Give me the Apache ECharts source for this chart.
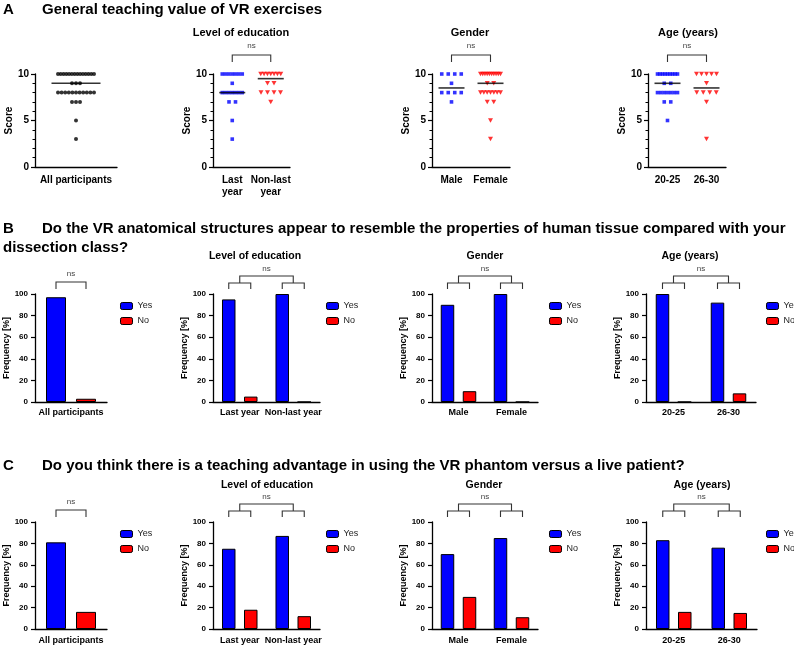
<!DOCTYPE html>
<html>
<head>
<meta charset="utf-8">
<style>
  html, body { margin: 0; padding: 0; background: #fff; }
  #chart { width: 794px; height: 649px; }
</style>
<script src="https://cdn.jsdelivr.net/npm/echarts@6/dist/echarts.min.js"></script>
</head>
<body>
<div id="chart"></div>
<script>
const FONT = '"Liberation Sans", Arial, Helvetica, sans-serif'
const BLUE = '#0000ff'
const RED = '#ff0000'

// A - general teaching value, scores 0-10
const scoreCatsAll = ['All participants']
const scoreCatsEdu = ['Last\nyear', 'Non-last\nyear']
const scoreCatsGender = ['Male', 'Female']
const scoreCatsAge = ['20-25', '26-30']

const scoresAll = [10, 10, 10, 10, 10, 10, 10, 10, 10, 10, 10, 10, 10, 10, 9, 9, 9, 8, 8, 8, 8, 8, 8, 8, 8, 8, 8, 8, 7, 7, 7, 5, 3]
const scoresLastYear = [10, 10, 10, 10, 10, 10, 10, 9, 8, 8, 8, 8, 8, 8, 8, 7, 7, 5, 3]
const scoresNonLastYear = [10, 10, 10, 10, 10, 10, 10, 9, 9, 8, 8, 8, 8, 7]
const scoresMale = [10, 10, 10, 10, 9, 8, 8, 8, 8, 7]
const scoresFemale = [10, 10, 10, 10, 10, 10, 10, 10, 10, 10, 9, 9, 8, 8, 8, 8, 8, 8, 8, 7, 7, 5, 3]
const scoresAge2025 = [10, 10, 10, 10, 10, 10, 10, 10, 10, 9, 9, 8, 8, 8, 8, 8, 8, 8, 7, 7, 5]
const scoresAge2630 = [10, 10, 10, 10, 10, 9, 8, 8, 8, 8, 7, 3]

// B and C - frequencies [%]
const barCatsAll = ['All participants']
const barCatsEdu = ['Last year', 'Non-last year']
const barCatsGender = ['Male', 'Female']
const barCatsAge = ['20-25', '26-30']

const tissueYesAll = [97]
const tissueNoAll = [3]
const tissueYesEdu = [95, 100]
const tissueNoEdu = [5, 0]
const tissueYesGender = [90, 100]
const tissueNoGender = [10, 0]
const tissueYesAge = [100, 92]
const tissueNoAge = [0, 8]

const advYesAll = [81]
const advNoAll = [16]
const advYesEdu = [75, 87]
const advNoEdu = [18, 12]
const advYesGender = [70, 85]
const advNoGender = [30, 11]
const advYesAge = [83, 76]
const advNoAge = [16, 15]

const grids = [
  { left: 35, top: 74, width: 82, height: 93 },
  { left: 213, top: 74, width: 77, height: 93 },
  { left: 432, top: 74, width: 78, height: 93 },
  { left: 648, top: 74, width: 78, height: 93 },
  { left: 35, top: 294, width: 72, height: 108 },
  { left: 213, top: 294, width: 107, height: 108 },
  { left: 432, top: 294, width: 106, height: 108 },
  { left: 646, top: 294, width: 110, height: 108 },
  { left: 35, top: 522, width: 72, height: 107 },
  { left: 213, top: 522, width: 107, height: 107 },
  { left: 432, top: 522, width: 106, height: 107 },
  { left: 646, top: 522, width: 111, height: 107 }
]

const axisLine = { show: true, lineStyle: { color: '#000', width: 1.3 } }
const boldText = (size) => ({ color: '#000', fontFamily: FONT, fontWeight: 'bold', fontSize: size })

function catAxis(i, cats, size, margin) {
  return {
    type: 'category', gridIndex: i, data: cats,
    axisLine: axisLine, axisTick: { show: false },
    axisLabel: Object.assign(boldText(size), { margin: margin, lineHeight: size + 2, interval: 0 })
  }
}

function scoreAxis(i) {
  return {
    type: 'value', gridIndex: i, min: 0, max: 10, interval: 5,
    name: 'Score', nameLocation: 'middle', nameGap: 20, nameTextStyle: boldText(10),
    axisLine: axisLine,
    axisTick: { show: true, length: 4, lineStyle: { color: '#000', width: 1.2 } },
    minorTick: { show: true, splitNumber: 5, length: 2.5, lineStyle: { color: '#000', width: 1 } },
    splitLine: { show: false }, minorSplitLine: { show: false },
    axisLabel: Object.assign(boldText(10), { margin: 6 })
  }
}

function freqAxis(i) {
  return {
    type: 'value', gridIndex: i, min: 0, max: 100, interval: 20,
    name: 'Frequency [%]', nameLocation: 'middle', nameGap: 23, nameTextStyle: boldText(9),
    axisLine: axisLine,
    axisTick: { show: true, length: 4, lineStyle: { color: '#000', width: 1.2 } },
    splitLine: { show: false },
    axisLabel: Object.assign(boldText(8), { margin: 7 })
  }
}

// spread equal scores side by side (pixel offsets only)
function swarm(scores, cat, step, maxSpan) {
  const counts = {}
  scores.forEach(s => { counts[s] = (counts[s] || 0) + 1 })
  const pts = []
  Object.keys(counts).forEach(k => {
    const n = counts[k]
    const d = n > 1 ? Math.min(step, maxSpan / (n - 1)) : 0
    for (let j = 0; j < n; j++) {
      pts.push({ value: [cat, +k], symbolOffset: [(j - (n - 1) / 2) * d, 0] })
    }
  })
  return pts
}

function median(a) {
  const s = [...a].sort((x, y) => x - y)
  const m = s.length / 2
  return s.length % 2 ? s[Math.floor(m)] : (s[m - 1] + s[m]) / 2
}

const SYM = {
  circle: { symbol: 'circle', symbolSize: 4 },
  square: { symbol: 'rect', symbolSize: 3.6 },
  tri: { symbol: 'path://M0,0L10,0L5,9Z', symbolSize: [5, 4.5] }
}

function dots(i, scores, cat, sym, color, step, span) {
  return Object.assign({
    type: 'scatter', xAxisIndex: i, yAxisIndex: i, silent: true,
    itemStyle: { color: color },
    data: swarm(scores, cat, step, span)
  }, SYM[sym])
}

function medianLine(i, groups, width) {
  return {
    type: 'scatter', xAxisIndex: i, yAxisIndex: i, silent: true, z: 3,
    symbol: 'rect', symbolSize: [width, 1.6], itemStyle: { color: '#000' },
    data: groups.map((g, c) => [c, median(g)])
  }
}

const SINGLE = { w: 20, gap: 0.5 }
const PAIR = { w: 13.5, gap: 0.63 }

function bars(i, yes, no, geo) {
  const common = {
    type: 'bar', xAxisIndex: i, yAxisIndex: i, silent: true,
    barWidth: geo.w, barGap: Math.round(geo.gap * 100) + '%'
  }
  return [
    Object.assign({ name: 'Yes', data: yes, itemStyle: { color: BLUE, borderColor: '#000', borderWidth: 1 } }, common),
    Object.assign({ name: 'No', data: no, itemStyle: { color: RED, borderColor: '#000', borderWidth: 1 } }, common)
  ]
}

// significance brackets drawn from the axis coordinates
function brackets(i, yMax, kind, geo) {
  return {
    type: 'custom', xAxisIndex: i, yAxisIndex: i, silent: true, clip: false, z: 10,
    data: [0],
    renderItem: function (params, api) {
      const p0 = api.coord([0, yMax])
      const top = p0[1]
      const c0 = p0[0]
      const lines = []
      let nsX, nsY
      if (kind === 'pair') {
        const c1 = api.coord([1, yMax])[0]
        lines.push([[c0, top - 12], [c0, top - 19], [c1, top - 19], [c1, top - 12]])
        nsX = (c0 + c1) / 2; nsY = top - 28
      } else if (kind === 'single') {
        const off = geo.w * (1 + geo.gap) / 2
        lines.push([[c0 - off, top - 5], [c0 - off, top - 12], [c0 + off, top - 12], [c0 + off, top - 5]])
        nsX = c0; nsY = top - 20
      } else {
        const off = geo.w * (1 + geo.gap) / 2
        const c1 = api.coord([1, yMax])[0]
        ;[c0, c1].forEach(c => {
          lines.push([[c - off, top - 5], [c - off, top - 11], [c + off, top - 11], [c + off, top - 5]])
        })
        lines.push([[c0, top - 11], [c0, top - 18], [c1, top - 18], [c1, top - 11]])
        nsX = (c0 + c1) / 2; nsY = top - 25
      }
      const children = lines.map(pts => ({
        type: 'polyline', shape: { points: pts },
        style: { stroke: '#333', lineWidth: 1.1, fill: null }
      }))
      children.push({
        type: 'text',
        style: {
          text: 'ns', x: nsX, y: nsY, fill: '#444', font: '8px ' + FONT,
          align: 'center', verticalAlign: 'middle', textAlign: 'center', textVerticalAlign: 'middle'
        }
      })
      return { type: 'group', children: children }
    }
  }
}

function legendAt(left, top) {
  return {
    orient: 'vertical', left: left, top: top, data: ['Yes', 'No'],
    itemWidth: 12, itemHeight: 7, itemGap: 5, selectedMode: false,
    itemStyle: { borderColor: '#000', borderWidth: 1 },
    textStyle: { fontFamily: FONT, fontSize: 9, color: '#222', lineHeight: 10 }
  }
}

function label(text, x, y, size, align) {
  return {
    type: 'text', x: x, y: y, silent: true,
    style: {
      text: text, fill: '#000', font: 'bold ' + size + 'px ' + FONT,
      textAlign: align || 'left', textVerticalAlign: 'middle',
      align: align || 'left', verticalAlign: 'middle'
    }
  }
}

const xAxes = [
  catAxis(0, scoreCatsAll, 10, 7),
  catAxis(1, scoreCatsEdu, 10, 7),
  catAxis(2, scoreCatsGender, 10, 7),
  catAxis(3, scoreCatsAge, 10, 7),
  catAxis(4, barCatsAll, 9, 5),
  catAxis(5, barCatsEdu, 9, 5),
  catAxis(6, barCatsGender, 9, 5),
  catAxis(7, barCatsAge, 9, 5),
  catAxis(8, barCatsAll, 9, 6),
  catAxis(9, barCatsEdu, 9, 6),
  catAxis(10, barCatsGender, 9, 6),
  catAxis(11, barCatsAge, 9, 6)
]
const yAxes = [0, 1, 2, 3].map(scoreAxis).concat([4, 5, 6, 7, 8, 9, 10, 11].map(freqAxis))

const series = [
  dots(0, scoresAll, 0, 'circle', '#000', 4, 36),
  medianLine(0, [scoresAll], 49),
  dots(1, scoresLastYear, 0, 'square', BLUE, 6.5, 20),
  dots(1, scoresNonLastYear, 1, 'tri', RED, 6.5, 20),
  medianLine(1, [scoresLastYear, scoresNonLastYear], 26),
  brackets(1, 10, 'pair'),
  dots(2, scoresMale, 0, 'square', BLUE, 6.5, 20),
  dots(2, scoresFemale, 1, 'tri', RED, 6.5, 20),
  medianLine(2, [scoresMale, scoresFemale], 26),
  brackets(2, 10, 'pair'),
  dots(3, scoresAge2025, 0, 'square', BLUE, 6.5, 20),
  dots(3, scoresAge2630, 1, 'tri', RED, 6.5, 20),
  medianLine(3, [scoresAge2025, scoresAge2630], 26),
  brackets(3, 10, 'pair')
].concat(
  bars(4, tissueYesAll, tissueNoAll, SINGLE), [brackets(4, 100, 'single', SINGLE)],
  bars(5, tissueYesEdu, tissueNoEdu, PAIR), [brackets(5, 100, 'nested', PAIR)],
  bars(6, tissueYesGender, tissueNoGender, PAIR), [brackets(6, 100, 'nested', PAIR)],
  bars(7, tissueYesAge, tissueNoAge, PAIR), [brackets(7, 100, 'nested', PAIR)],
  bars(8, advYesAll, advNoAll, SINGLE), [brackets(8, 100, 'single', SINGLE)],
  bars(9, advYesEdu, advNoEdu, PAIR), [brackets(9, 100, 'nested', PAIR)],
  bars(10, advYesGender, advNoGender, PAIR), [brackets(10, 100, 'nested', PAIR)],
  bars(11, advYesAge, advNoAge, PAIR), [brackets(11, 100, 'nested', PAIR)]
)

const texts = [
  label('A', 3, 10, 15),
  label('General teaching value of VR exercises', 42, 10, 15),
  label('Level of education', 241, 33, 11, 'center'),
  label('Gender', 470, 33, 11, 'center'),
  label('Age (years)', 688, 33, 11, 'center'),

  label('B', 3, 229, 15),
  label('Do the VR anatomical structures appear to resemble the properties of human tissue compared with your', 42, 229, 15),
  label('dissection class?', 3, 248, 15),
  label('Level of education', 255, 256, 10.5, 'center'),
  label('Gender', 485, 256, 10.5, 'center'),
  label('Age (years)', 690, 256, 10.5, 'center'),

  label('C', 3, 466, 15),
  label('Do you think there is a teaching advantage in using the VR phantom versus a live patient?', 42, 466, 15),
  label('Level of education', 267, 485, 10.5, 'center'),
  label('Gender', 484, 485, 10.5, 'center'),
  label('Age (years)', 702, 485, 10.5, 'center')
]

const chart = echarts.init(document.getElementById('chart'), null, { renderer: 'canvas' })
chart.setOption({
  backgroundColor: '#fff',
  animation: false,
  textStyle: { fontFamily: FONT },
  grid: grids.map(g => Object.assign({ containLabel: false, outerBoundsMode: 'none' }, g)),
  xAxis: xAxes,
  yAxis: yAxes,
  legend: [
    legendAt(115, 296), legendAt(321, 296), legendAt(544, 296), legendAt(761, 296),
    legendAt(115, 524), legendAt(321, 524), legendAt(544, 524), legendAt(761, 524)
  ],
  graphic: texts,
  series: series
})
</script>
</body>
</html>
